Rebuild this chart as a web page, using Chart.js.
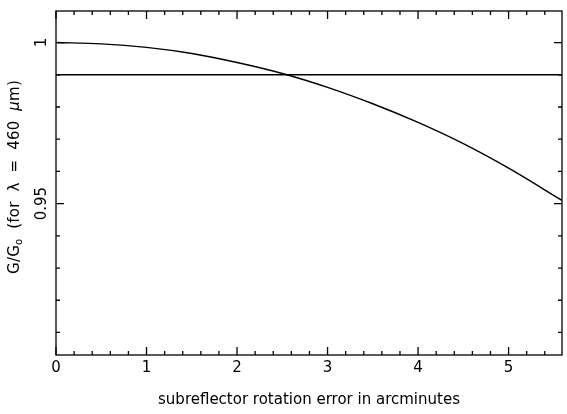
<!DOCTYPE html>
<html>
<head>
<meta charset="utf-8">
<script src="https://cdn.jsdelivr.net/npm/chart.js@4.4.1/dist/chart.umd.min.js"></script>
<style>
    body { margin: 0; background: #fff; }
    #wrap { width: 567px; height: 414px; position: relative; }
</style>
</head>
<body>
<div id="wrap"><canvas id="gainChart"></canvas></div>
<script>
// rotation error (arcmin) and relative gain
var errorArcmin = [0, 0.5, 1, 1.5, 2, 2.5, 3, 3.5, 4, 4.5, 5, 5.59];
var gainRatio = [1.0, 0.9996, 0.9985, 0.9966, 0.9938, 0.9904, 0.9861, 0.9810, 0.9752, 0.9686, 0.9610, 0.9510];

// flat reference level
var levelX = [0, 5.59];
var levelY = [0.99, 0.99];

// axis limits and tick positions
var xMin = 0, xMax = 5.59;
var yMin = 0.903, yMax = 1.0098;
var xMajorTicks = [0, 1, 2, 3, 4, 5];
var yMajorTicks = [0.95, 1.0];
var xMinorStep = 0.2;
var yMinorStep = 0.01;

var fontFamily = '"DejaVu Sans", sans-serif';

function toPoints(xs, ys) {
    return xs.map(function (x, i) { return { x: x, y: ys[i] }; });
}

// frame and inward tick marks on all four sides
var frameTicks = {
    id: 'frameTicks',
    afterDraw: function (chart) {
        var ctx = chart.ctx;
        var a = chart.chartArea;
        var xs = chart.scales.x, ys = chart.scales.y;
        ctx.save();
        ctx.strokeStyle = '#000';
        ctx.lineWidth = 1.3;
        ctx.strokeRect(a.left, a.top, a.right - a.left, a.bottom - a.top);
        ctx.beginPath();
        var i, v, p, len;
        for (i = 0; i * xMinorStep <= xMax + 1e-9; i++) {
            v = i * xMinorStep;
            p = xs.getPixelForValue(v);
            len = (i % 5 === 0) ? 8 : 4;
            ctx.moveTo(p, a.bottom); ctx.lineTo(p, a.bottom - len);
            ctx.moveTo(p, a.top); ctx.lineTo(p, a.top + len);
        }
        for (i = Math.ceil(yMin / yMinorStep); i * yMinorStep <= yMax + 1e-9; i++) {
            v = i * yMinorStep;
            p = ys.getPixelForValue(v);
            len = (i % 5 === 0) ? 8 : 4;
            ctx.moveTo(a.left, p); ctx.lineTo(a.left + len, p);
            ctx.moveTo(a.right, p); ctx.lineTo(a.right - len, p);
        }
        ctx.stroke();
        ctx.restore();
    }
};

// rotated y title with subscript and italic mu
var yTitle = {
    id: 'yTitle',
    afterDraw: function (chart) {
        var ctx = chart.ctx;
        var parts = [
            { t: 'G/G', f: '15px ' + fontFamily, dy: 0 },
            { t: 'o', f: '10px ' + fontFamily, dy: 4 },
            { t: '  (for  \u03bb  =  460  ', f: '15px ' + fontFamily, dy: 0 },
            { t: '\u03bc', f: 'italic 15px ' + fontFamily, dy: 0 },
            { t: 'm)', f: '15px ' + fontFamily, dy: 0 }
        ];
        ctx.save();
        ctx.letterSpacing = '0.2px';
        var total = 0;
        parts.forEach(function (p) { ctx.font = p.f; p.w = ctx.measureText(p.t).width; total += p.w; });
        ctx.translate(15, 177);
        ctx.rotate(-Math.PI / 2);
        ctx.fillStyle = '#000';
        ctx.textBaseline = 'middle';
        ctx.textAlign = 'left';
        var x = -total / 2;
        parts.forEach(function (p) {
            ctx.font = p.f;
            ctx.fillText(p.t, x, p.dy);
            x += p.w;
        });
        ctx.restore();
    }
};

var ctx = document.getElementById('gainChart');

var config = {
    type: 'scatter',
    data: {
        datasets: [{
            data: toPoints(errorArcmin, gainRatio),
            showLine: true,
            borderColor: '#000',
            borderWidth: 1.4,
            pointRadius: 0,
            cubicInterpolationMode: 'monotone'
        }, {
            data: toPoints(levelX, levelY),
            showLine: true,
            borderColor: '#000',
            borderWidth: 1.4,
            pointRadius: 0
        }]
    },
    options: {
        animation: false,
        responsive: true,
        maintainAspectRatio: false,
        layout: { padding: { top: 11, right: 5, left: 0, bottom: 0 } },
        plugins: { legend: { display: false }, tooltip: { enabled: false } },
        scales: {
            x: {
                type: 'linear',
                min: xMin,
                max: xMax,
                afterBuildTicks: function (scale) {
                    scale.ticks = xMajorTicks.map(function (v) { return { value: v }; });
                },
                afterFit: function (scale) { scale.height = 59; },
                grid: { display: false, drawTicks: false },
                border: { display: false },
                ticks: {
                    padding: 4,
                    color: '#000',
                    font: { family: fontFamily, size: 15 },
                    maxRotation: 0,
                    autoSkip: false
                },
                title: {
                    display: true,
                    text: 'subreflector rotation error in arcminutes',
                    color: '#000',
                    font: { family: fontFamily, size: 15 },
                    padding: { top: 0, bottom: 5 }
                }
            },
            y: {
                type: 'linear',
                min: yMin,
                max: yMax,
                afterBuildTicks: function (scale) {
                    scale.ticks = yMajorTicks.map(function (v) { return { value: v }; });
                },
                afterFit: function (scale) { scale.width = 56; },
                grid: { display: false, drawTicks: false },
                border: { display: false },
                ticks: {
                    padding: -3,
                    color: '#000',
                    font: { family: fontFamily, size: 15 },
                    minRotation: 90,
                    maxRotation: 90,
                    crossAlign: 'center',
                    autoSkip: false,
                    callback: function (v) { return v === 1 ? '1' : String(v); }
                }
            }
        }
    },
    plugins: [frameTicks, yTitle]
};

var gainChart = new Chart(ctx, config);
</script>
</body>
</html>
